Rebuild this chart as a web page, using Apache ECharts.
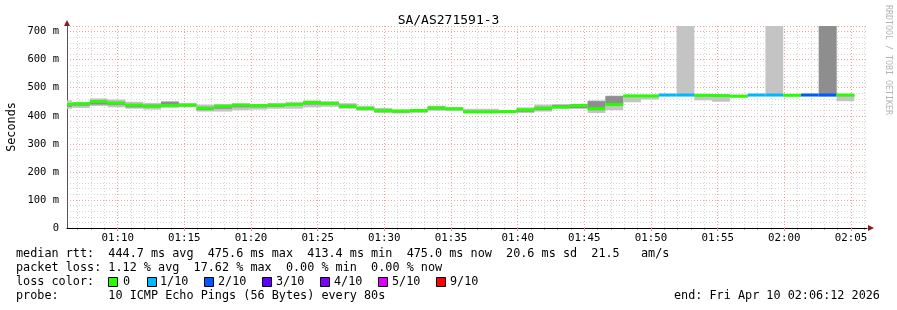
<!DOCTYPE html>
<html>
<head>
<meta charset="utf-8">
<script src="https://cdn.jsdelivr.net/npm/echarts@6/dist/echarts.min.js"></script>
<style>
  html, body { margin: 0; padding: 0; background: #fff; }
  #chart { width: 897px; height: 310px; }
</style>
</head>
<body>
<div id="chart"></div>
<script>
// time window 01:06:12 .. 02:06:12 (seconds of day), one step = 80 s
const axisStart = 3972;
const axisEnd = 7572;
const firstStep = 3915;
const stepLen = 80;
const tickLabels = ['01:10', '01:15', '01:20', '01:25', '01:30', '01:35',
  '01:40', '01:45', '01:50', '01:55', '02:00', '02:05'];

// median rtt per step (ms)
const medians = [440, 443, 451, 445, 438, 434, 437, 438, 427, 434, 438, 436, 438, 440, 447, 444,
  433, 426, 418, 417, 419, 428, 425, 414, 414, 415, 421, 427, 431, 437, 425, 440,
  471, 471, 474, 474, 473, 472, 470, 474, 474, 473, 474, 474, 474];
// lost pings out of 10 per step
const losses = [0, 0, 0, 0, 0, 0, 0, 0, 0, 0, 0, 0, 0, 0, 0, 0,
  0, 0, 0, 0, 0, 0, 0, 0, 0, 0, 0, 0, 0, 0, 0, 0,
  0, 0, 1, 1, 0, 0, 0, 1, 1, 0, 2, 2, 0];
// smoke: outer (light) and inner (dark) ranges, ms
const smokeLo = [425, 428, 435, 430, 425, 422, 428, 430, 415, 415, 420, 422, 425, 425, 430, 432,
  425, 418, 410, 408, 410, 418, 418, 410, 410, 410, 410, 415, 425, 424, 410, 420,
  448, 458, 470, 470, 455, 450, 465, 470, 470, 470, 470, 470, 452];
const smokeHi = [455, 448, 462, 458, 450, 446, 452, 446, 440, 442, 445, 442, 446, 450, 455, 452,
  445, 436, 428, 422, 424, 436, 430, 425, 425, 420, 430, 440, 442, 442, 455, 472,
  472, 472, 476, 730, 476, 476, 472, 476, 730, 476, 478, 730, 476];
const darkLo = [432, 436, 440, 438, 430, 430, 438, 434, 420, 425, 430, 430, 432, 435, 440, 440,
  430, 422, 414, 412, 414, 422, 420, 412, 412, 412, 414, 420, 428, 428, 420, 440,
  468, 468, 472, 472, 470, 468, 468, 472, 472, 472, 472, 470, 470];
const darkHi = [445, 442, 455, 450, 442, 440, 450, 442, 432, 438, 440, 440, 440, 443, 450, 448,
  440, 430, 422, 418, 420, 432, 428, 418, 418, 416, 424, 432, 438, 440, 452, 470,
  472, 472, 474, 476, 474, 474, 471, 475, 476, 474, 476, 730, 475];

const lossColors = ['#26ff00', '#00b8ff', '#0059ff', '#5e00ff', '#7e00ff', '#dd00ff', '#ff0000'];
const lossLabels = ['0', '1/10', '2/10', '3/10', '4/10', '5/10', '9/10'];
const lossLevels = [0, 1, 2, 3, 4, 5, 9];

const toSec = s => { const p = s.split(':'); return (+p[0]) * 3600 + (+p[1]) * 60; };
const fmt = v => {
  const h = Math.floor(v / 3600), m = Math.round((v % 3600) / 60);
  return String(h).padStart(2, '0') + ':' + String(m).padStart(2, '0');
};
const majorTicks = tickLabels.map(toSec);
const minorTicks = [];
for (let s = 3960 + 60; s < axisEnd; s += 60) {
  if (majorTicks.indexOf(s) < 0) minorTicks.push(s);
}

const rows = medians.map((m, i) => [
  firstStep + i * stepLen, firstStep + (i + 1) * stepLen,
  smokeLo[i], smokeHi[i], darkLo[i], darkHi[i], m, losses[i]
]);

function lossColor(n) {
  let c = lossColors[0];
  lossLevels.forEach((lv, j) => { if (n >= lv) c = lossColors[j]; });
  return c;
}

const mono = 'DejaVu Sans Mono';
const font = '11.8px ' + mono;

// legend text block
const textRows = [
  [16, 254, 'median rtt:  444.7 ms avg  475.6 ms max  413.4 ms min  475.0 ms now  20.6 ms sd  21.5   am/s'],
  [16, 268, 'packet loss: 1.12 % avg  17.62 % max  0.00 % min  0.00 % now'],
  [16, 282, 'loss color:'],
  [16, 296, 'probe:       10 ICMP Echo Pings (56 Bytes) every 80s'],
  [674, 296, 'end: Fri Apr 10 02:06:12 2026']
];
const boxX = [108, 147, 204, 262, 320, 378, 436];
const boxLabelX = [123, 160, 218, 276, 334, 392, 450];

const graphics = [];
textRows.forEach(([x, y, t]) => graphics.push({
  type: 'text', x: x, y: y,
  style: {text: t, font: font, fill: '#000', verticalAlign: 'middle'}
}));
lossColors.forEach((c, j) => {
  graphics.push({type: 'rect', shape: {x: boxX[j] + 0.5, y: 277.5, width: 9, height: 9},
    style: {fill: c, stroke: '#000', lineWidth: 1}});
  graphics.push({type: 'text', x: boxLabelX[j], y: 282,
    style: {text: lossLabels[j], font: font, fill: '#000', verticalAlign: 'middle'}});
});
// y axis title
graphics.push({type: 'text', x: 12, y: 127, rotation: Math.PI / 2,
  style: {text: 'Seconds', font: font, fill: '#000', align: 'center', verticalAlign: 'middle'}});
// watermark
graphics.push({type: 'text', x: 892, y: 5, rotation: -Math.PI / 2,
  style: {text: 'RRDTOOL / TOBI OETIKER', font: '8.3px ' + mono, fill: '#b4b4b4', verticalAlign: 'top'}});
// axis arrows
graphics.push({type: 'polygon', shape: {points: [[64, 26], [70, 26], [67, 20]]}, style: {fill: '#8b1a1a'}});
graphics.push({type: 'polygon', shape: {points: [[868, 225], [868, 231], [874, 228]]}, style: {fill: '#8b1a1a'}});

const chart = echarts.init(document.getElementById('chart'));
chart.setOption({
  backgroundColor: '#fff',
  animation: false,
  title: {
    text: 'SA/AS271591-3', left: 'center', top: 9,
    textStyle: {fontFamily: mono, fontSize: 13, fontWeight: 'normal', color: '#000'}
  },
  grid: {left: 67, right: 30, top: 26, bottom: 82, containLabel: false, outerBoundsMode: 'none'},
  xAxis: [{
    type: 'value', min: axisStart, max: axisEnd,
    axisLine: {lineStyle: {color: '#000', width: 1}},
    axisTick: {show: true, length: 3, customValues: majorTicks, lineStyle: {color: '#ff8080'}},
    axisLabel: {
      customValues: majorTicks, formatter: v => fmt(v),
      color: '#000', fontFamily: mono, fontSize: 10.8, margin: 5
    },
    splitLine: {show: true, lineStyle: {color: '#f2a0a0', type: [1, 2]}},
    z: 3
  }, {
    type: 'value', min: axisStart, max: axisEnd,
    position: 'bottom',
    axisLine: {show: false},
    axisTick: {show: true, length: 2, customValues: minorTicks, lineStyle: {color: '#b0b0b0'}},
    axisLabel: {show: false, customValues: minorTicks},
    splitLine: {show: true, lineStyle: {color: '#d6d6d6', type: [1, 2]}},
    z: 1
  }],
  yAxis: {
    type: 'value', min: 0, max: 720, interval: 100,
    axisLine: {show: true, lineStyle: {color: '#555'}},
    axisTick: {show: false},
    axisLabel: {
      formatter: v => v === 0 ? '0' : v + ' m',
      color: '#000', fontFamily: mono, fontSize: 10.5, margin: 8, showMaxLabel: false
    },
    splitLine: {show: true, lineStyle: {color: '#f2a0a0', type: [1, 2]}},
    minorTick: {show: false, splitNumber: 5},
    minorSplitLine: {show: true, lineStyle: {color: '#d6d6d6', type: [1, 2]}}
  },
  series: [{
    type: 'custom',
    clip: true,
    xAxisIndex: 0,
    encode: {x: [0, 1], y: [2, 3, 4, 5, 6]},
    data: rows,
    z: 5,
    renderItem(params, api) {
      const t0 = api.value(0), t1 = api.value(1);
      const lt = api.coord([t0, api.value(3)]), lb = api.coord([t1, api.value(2)]);
      const dt = api.coord([t0, api.value(5)]), db = api.coord([t1, api.value(4)]);
      const md = api.coord([t0, api.value(6)]);
      const ws = lb[0] - lt[0];
      return {
        type: 'group',
        children: [
          {type: 'rect', shape: {x: lt[0], y: lt[1], width: ws, height: lb[1] - lt[1]},
            style: {fill: '#c4c4c4'}},
          {type: 'rect', shape: {x: dt[0], y: dt[1], width: ws, height: db[1] - dt[1]},
            style: {fill: '#8e8e8e'}},
          {type: 'rect', shape: {x: lt[0], y: md[1] - 1.5, width: ws, height: 3},
            style: {fill: lossColor(api.value(7))}}
        ]
      };
    }
  }],
  graphic: graphics
});
</script>
</body>
</html>
